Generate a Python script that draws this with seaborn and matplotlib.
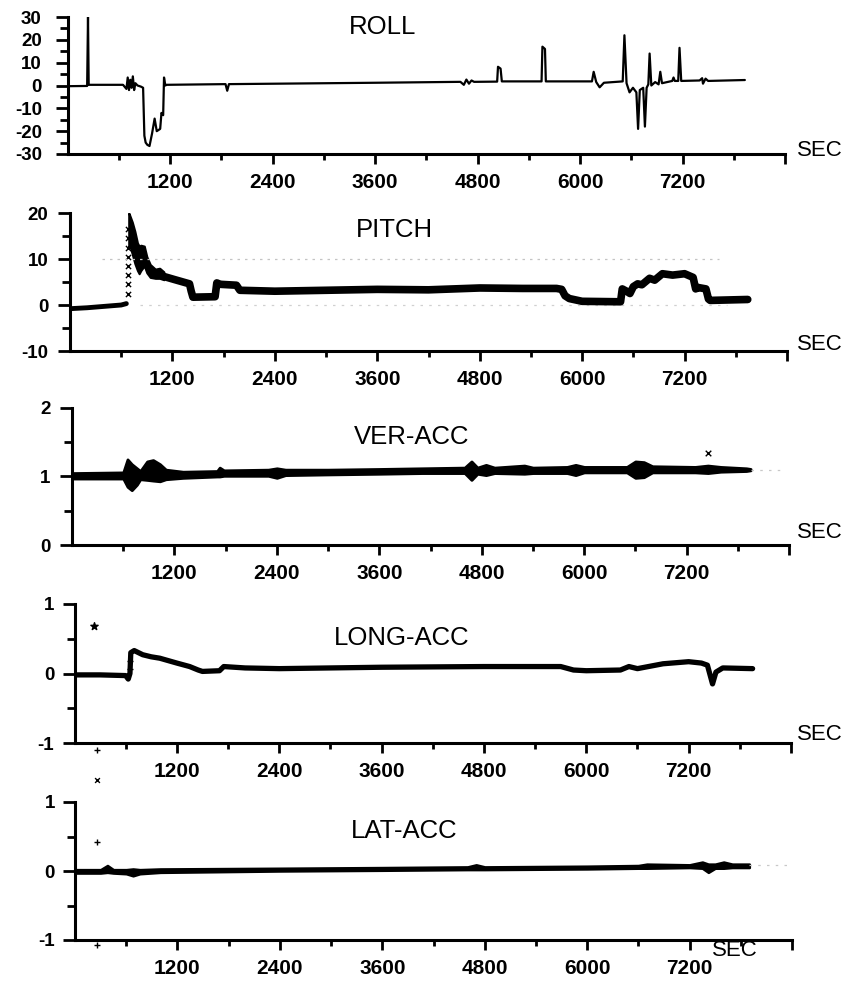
import matplotlib
matplotlib.use('Agg')
import matplotlib.pyplot as plt
from matplotlib import font_manager
import seaborn as sns

W, H = 855, 982

# ---- data (time in seconds) ----
roll_t = [0, 230, 240, 248, 650, 690, 705, 720, 735, 750, 765, 780, 795, 820, 860, 885, 900, 915, 935, 960,
          990, 1020, 1045, 1085, 1100, 1120, 1130, 1145, 1160, 1850, 1870, 1890, 3600, 4600, 4640, 4670, 4700,
          4730, 4760, 5030, 5040, 5070, 5085, 5550, 5560, 5590, 5600, 6140, 6160, 6190, 6230, 6280, 6500, 6520,
          6545, 6580, 6620, 6660, 6680, 6700, 6740, 6760, 6780, 6800, 6815, 6835, 6880, 6920, 6940, 6960, 7080,
          7095, 7110, 7150, 7165, 7185, 7400, 7430, 7440, 7470, 7500, 7930]
roll_v = [-0.3, -0.2, 30, 0.3, 0.3, -1.5, 3.5, -2, 2.5, -1, 4, -2, 1, 0, -0.5, -1, -22, -25, -26, -26.5,
          -21, -14.5, -20, -19, -12, -13, 3.5, 0, 0.3, 0.6, -2.3, 0.6, 1.2, 1.6, 0.3, 2.6, 0.8,
          2.2, 1.6, 1.7, 8.2, 7.4, 1.8, 1.8, 17, 16, 1.8, 1.8, 6, 1.5, -0.8, 1.2, 1.8, 22,
          1, -3, -1, -3, -19, -2, -1, -18, -1, 0.5, 14, 0, 1.5, 0.5, 6, 1, 2,
          3.5, 2, 2, 16.5, 2, 2.2, 3.2, 0.8, 3, 2, 2.4]

# pitch: level flight before take-off, noisy climb band, then the rest of the flight
pitch_pre_t = [0, 200, 400, 600, 660]
pitch_pre_v = [-0.8, -0.6, -0.3, 0.0, 0.3]
pitch_band_t = [688, 700, 730, 760, 790, 810, 830, 870, 900, 940, 1000, 1050, 1100]
pitch_band_lo = [12.5, 13, 11, 9, 7.5, 6.8, 7.5, 8.5, 7, 6.0, 5.8, 5.8, 5.5]
pitch_band_hi = [20, 19.5, 18, 16, 13.5, 12.8, 13, 12.8, 10.5, 8.8, 7.8, 8, 7.2]
pitch_t = [1100, 1230, 1400, 1420, 1440, 1700, 1720, 1760, 1950, 1990, 2400, 3000, 3600, 4200, 4800, 5300,
           5700, 5760, 5800, 5850, 6000, 6450, 6470, 6520, 6560, 6600, 6650, 6700, 6790, 6850, 6940, 7060,
           7200, 7300, 7330, 7360, 7450, 7480, 7500, 7940]
pitch_v = [6.2, 5.5, 4.6, 3.0, 1.7, 1.8, 4.8, 4.5, 4.3, 3.2, 3.0, 3.2, 3.4, 3.3, 3.7, 3.6,
           3.6, 3.4, 2.0, 1.4, 0.8, 0.7, 3.5, 3.0, 2.5, 4.0, 4.6, 4.4, 5.8, 5.4, 6.8, 6.5,
           6.8, 6.0, 3.5, 3.8, 3.5, 1.3, 1.0, 1.2]
pitch_mark_t = [675, 675, 675, 675, 675, 675, 675, 675]
pitch_mark_v = [2.5, 4.5, 6.5, 8.5, 10.5, 12.5, 14.5, 16.5]

ver_t = [0, 600, 650, 700, 760, 800, 880, 950, 1030, 1100, 1300, 1700, 1730, 1780, 2300, 2400, 2500, 3000, 3600,
         4100, 4600, 4680, 4750, 4850, 4950, 5300, 5400, 5800, 5900, 6000, 6500, 6600, 6700, 6800, 7300, 7450,
         7600, 7900, 7950]
ver_lo = [0.97, 0.97, 0.85, 0.80, 0.88, 0.96, 0.95, 0.94, 0.93, 0.96, 0.98, 1.00, 1.00, 1.01, 1.01, 0.98, 1.02,
          1.03, 1.04, 1.05, 1.05, 0.95, 1.04, 1.02, 1.05, 1.04, 1.05, 1.05, 1.02, 1.06, 1.06, 0.98, 0.99, 1.06,
          1.06, 1.05, 1.07, 1.08, 1.09]
ver_hi = [1.05, 1.06, 1.25, 1.18, 1.12, 1.08, 1.22, 1.24, 1.18, 1.10, 1.07, 1.08, 1.13, 1.09, 1.10, 1.12, 1.10,
          1.10, 1.11, 1.12, 1.13, 1.22, 1.13, 1.17, 1.13, 1.16, 1.13, 1.14, 1.17, 1.14, 1.14, 1.22, 1.21, 1.15,
          1.14, 1.16, 1.14, 1.12, 1.11]
ver_mark_t = [7450]
ver_mark_v = [1.35]

long_t = [0, 300, 600, 630, 650, 660, 700, 800, 900, 1000, 1200, 1350, 1450, 1500, 1700, 1750, 2000, 2400, 3600,
          4800, 5700, 5850, 6000, 6400, 6500, 6600, 6900, 7200, 7350, 7420, 7480, 7520, 7600, 7950]
long_v = [-0.02, -0.02, -0.03, -0.08, 0.0, 0.30, 0.33, 0.27, 0.24, 0.22, 0.15, 0.10, 0.05, 0.03, 0.04, 0.10,
          0.08, 0.07, 0.09, 0.10, 0.10, 0.05, 0.04, 0.05, 0.10, 0.07, 0.14, 0.17, 0.15, 0.12, -0.15, 0.02,
          0.08, 0.07]
long_star_t = [230]
long_star_v = [0.68]
long_plus_t = [650, 655, 260]
long_plus_v = [0.18, 0.07, -1.1]

lat_t = [0, 300, 380, 450, 600, 680, 760, 1000, 2400, 3600, 4600, 4700, 4800, 6000, 6600, 6700, 7200, 7350,
         7420, 7500, 7600, 7700, 7900]
lat_lo = [-0.03, -0.03, -0.02, -0.03, -0.04, -0.07, -0.04, -0.02, 0.00, 0.01, 0.02, 0.02, 0.02, 0.03, 0.04,
          0.04, 0.05, 0.04, -0.02, 0.04, 0.04, 0.05, 0.05]
lat_hi = [0.02, 0.02, 0.08, 0.02, 0.02, 0.03, 0.02, 0.03, 0.04, 0.05, 0.06, 0.09, 0.06, 0.07, 0.08, 0.10,
          0.09, 0.13, 0.10, 0.10, 0.13, 0.10, 0.10]
lat_x_t = [257]
lat_x_v = [1.32]
lat_plus_t = [257, 257]
lat_plus_v = [0.42, -1.07]

x_major = [1200, 2400, 3600, 4800, 6000, 7200, 8400]
x_labels = ['1200', '2400', '3600', '4800', '6000', '7200', '']
x_minor = [600, 1800, 3000, 4200, 5400, 6600, 7800]

sns.set_style('ticks')
plt.rcParams['font.family'] = ['Liberation Sans', 'DejaVu Sans']
plt.rcParams['axes.unicode_minus'] = False
for key in ('text.color', 'axes.labelcolor', 'xtick.color', 'ytick.color', 'axes.edgecolor'):
    plt.rcParams[key] = 'black'

installed = {f.name for f in font_manager.fontManager.ttflist}
narrow = 'Liberation Sans Narrow' if 'Liberation Sans Narrow' in installed else 'Liberation Sans'

fig = plt.figure(figsize=(W / 100, H / 100), dpi=100)


def px_box(left, right, top, bottom):
    return [left / W, 1 - bottom / H, (right - left) / W, (bottom - top) / H]


def ftext(x, y, s, **kw):
    fig.text(x / W, 1 - y / H, s, color='black', **kw)


panels = {
    'roll': dict(box=px_box(67.5, 785, 17, 154), ylim=(-30, 30),
                 yt=[-30, -20, -10, 0, 10, 20, 30], ym=[-25, -15, -5, 5, 15, 25],
                 yl=['-30', '-20', '-10', '0', '10', '20', '30'], ypad=10),
    'pitch': dict(box=px_box(70, 787, 213, 351), ylim=(-10, 20),
                  yt=[-10, 0, 10, 20], ym=[-5, 5, 15], yl=['-10', '0', '10', '20'], ypad=7),
    'ver': dict(box=px_box(72, 789, 408, 545), ylim=(0, 2),
                yt=[0, 1, 2], ym=[0.5, 1.5], yl=['0', '1', '2'], ypad=7),
    'long': dict(box=px_box(74.5, 791, 604, 743), ylim=(-1, 1),
                 yt=[-1, 0, 1], ym=[-0.5, 0.5], yl=['-1', '0', '1'], ypad=6),
    'lat': dict(box=px_box(75, 792, 802, 940), ylim=(-1, 1),
                yt=[-1, 0, 1], ym=[-0.5, 0.5], yl=['-1', '0', '1'], ypad=6),
}

axes = {}
for name, p in panels.items():
    ax = fig.add_axes(p['box'])
    ax.set_xlim(0, 8400)
    ax.set_ylim(*p['ylim'])
    ax.set_xticks(x_major)
    ax.set_xticklabels(x_labels)
    ax.set_xticks(x_minor, minor=True)
    ax.set_yticks(p['yt'])
    ax.set_yticklabels(p['yl'])
    ax.set_yticks(p['ym'], minor=True)
    sns.despine(ax=ax)
    ax.set_facecolor('white')
    for s in ('left', 'bottom'):
        ax.spines[s].set_linewidth(2.2)
        ax.spines[s].set_color('black')
    ax.tick_params(axis='x', which='major', direction='out', length=7, width=2, pad=7, colors='black')
    ax.tick_params(axis='x', which='minor', direction='out', length=4.5, width=2, colors='black')
    ax.tick_params(axis='y', which='major', direction='out', length=8.5, width=2, pad=p['ypad'], colors='black')
    ax.tick_params(axis='y', which='minor', direction='out', length=5.5, width=2, colors='black')
    fam = [narrow, 'DejaVu Sans'] if name == 'lat' else ['Liberation Sans', 'DejaVu Sans']
    for tl in ax.get_xticklabels():
        tl.set_family(fam)
        tl.set_fontsize(15)
        tl.set_fontweight('bold')
        tl.set_color('black')
    for tl in ax.get_yticklabels():
        tl.set_family(fam)
        tl.set_fontsize(13.5)
        tl.set_fontweight('bold')
        tl.set_color('black')
    ax.set_xlabel('')
    ax.set_ylabel('')
    axes[name] = ax

# ROLL
ax = axes['roll']
sns.lineplot(x=roll_t, y=roll_v, ax=ax, color='black', linewidth=1.6, estimator=None, sort=False)

# PITCH
ax = axes['pitch']
ax.hlines([10], 380, 7600, colors='#c4c4c4', linestyles=(0, (2, 4)), linewidth=0.9)
ax.hlines([0], 820, 7700, colors='#d0d0d0', linestyles=(0, (2, 5)), linewidth=0.9)
sns.lineplot(x=pitch_pre_t, y=pitch_pre_v, ax=ax, color='black', linewidth=3.5, estimator=None, sort=False)
ax.fill_between(pitch_band_t, pitch_band_lo, pitch_band_hi, color='black', linewidth=1.5)
sns.lineplot(x=pitch_t, y=pitch_v, ax=ax, color='black', linewidth=5.5, estimator=None, sort=False)
ax.scatter(pitch_mark_t, pitch_mark_v, marker='x', s=14, color='black', linewidths=1)

# VER-ACC
ax = axes['ver']
ax.hlines([1.1], 7950, 8300, colors='#c8c8c8', linestyles=(0, (2, 5)), linewidth=0.9)
ax.fill_between(ver_t, ver_lo, ver_hi, color='black', linewidth=2)
ax.scatter(ver_mark_t, ver_mark_v, marker='x', s=16, color='black', linewidths=1)

# LONG-ACC
ax = axes['long']
sns.lineplot(x=long_t, y=long_v, ax=ax, color='black', linewidth=3.8, estimator=None, sort=False)
ax.scatter(long_star_t, long_star_v, marker='*', s=30, color='black', clip_on=False)
ax.scatter(long_plus_t, long_plus_v, marker='+', s=18, color='black', linewidths=1, clip_on=False)

# LAT-ACC
ax = axes['lat']
ax.hlines([0.08], 7900, 8350, colors='#c8c8c8', linestyles=(0, (2, 5)), linewidth=0.9)
ax.fill_between(lat_t, lat_lo, lat_hi, color='black', linewidth=1.8)
ax.scatter(lat_x_t, lat_x_v, marker='x', s=12, color='black', linewidths=1, clip_on=False)
ax.scatter(lat_plus_t, lat_plus_v, marker='+', s=14, color='black', linewidths=1, clip_on=False)

# titles and axis names
ftext(383, 27, 'ROLL', ha='center', va='center', fontsize=18.5)
ftext(394, 230, 'PITCH', ha='center', va='center', fontsize=18.5)
ftext(412, 437, 'VER-ACC', ha='center', va='center', fontsize=18.5)
ftext(402, 638, 'LONG-ACC', ha='center', va='center', fontsize=18.5)
ftext(404, 831, 'LAT-ACC', ha='center', va='center', fontsize=18.5, family=[narrow, 'DejaVu Sans'])
for y in (150, 344, 533, 735):
    ftext(797, y, 'SEC', ha='left', va='center', fontsize=16)
ftext(712, 950, 'SEC', ha='left', va='center', fontsize=16, family=[narrow, 'DejaVu Sans'])

fig.savefig('out.png', dpi=100, facecolor='white')
